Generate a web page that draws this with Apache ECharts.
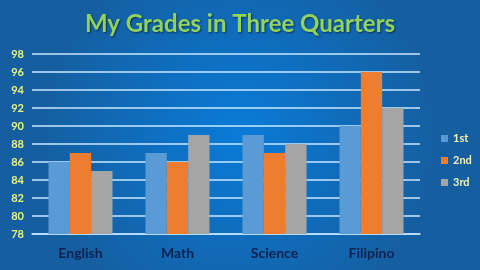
<!DOCTYPE html>
<html><head><meta charset="utf-8">
<script src="https://cdn.jsdelivr.net/npm/echarts@6/dist/echarts.min.js"></script>
<style>html,body{margin:0;padding:0;}#c{width:480px;height:270px;}</style>
</head><body><div id="c"></div>
<script>
const categories = ['English', 'Math', 'Science', 'Filipino'];
const seriesNames = ['1st', '2nd', '3rd'];
const q1 = [86, 87, 89, 90];
const q2 = [87, 86, 87, 96];
const q3 = [85, 89, 88, 92];
const colors = ['#5b9bd5', '#ed7d31', '#a5a5a5'];
const chart = echarts.init(document.getElementById('c'));
const font = 'Lato, "Open Sans", sans-serif';
chart.setOption({
  backgroundColor: {type:'radial', x:0.5, y:0.5, r:0.75, colorStops:[{offset:0,color:'#0a7bd8'},{offset:1,color:'#155e9f'}]},
  animation: false,
  title: {text:'My Grades in Three Quarters', left:'center', top:7,
    textStyle:{color:'#92d35e', fontSize:24, fontWeight:'bold', fontFamily:font,
      textShadowColor:'rgba(0,0,0,0.5)', textShadowBlur:2, textShadowOffsetX:1, textShadowOffsetY:1}},
  legend: {orient:'vertical', left:436, top:128, itemWidth:7, itemHeight:7, itemGap:11,
    icon:'rect', data: seriesNames,
    textStyle:{color:'#f2f2a8', fontSize:11, fontWeight:'bold', fontFamily:font}},
  grid: {left:32, right:60, top:54, bottom:36},
  xAxis: {type:'category', data:categories,
    axisLine:{lineStyle:{color:'#bfe3ff', width:1.5}}, axisTick:{show:false},
    axisLabel:{color:'#0d2250', fontSize:14, fontWeight:'bold', fontFamily:font, margin:12}},
  yAxis: {type:'value', min:78, max:98, interval:2,
    axisLine:{show:false}, axisTick:{show:false},
    splitLine:{lineStyle:{color:'#c8e8ff', width:1.5}},
    axisLabel:{color:'#eaf77a', fontSize:11, fontWeight:'bold', fontFamily:font, margin:8}},
  series: [
    {name:seriesNames[0], type:'bar', data:q1, itemStyle:{color:colors[0]}, barGap:'0%', barCategoryGap:'34%'},
    {name:seriesNames[1], type:'bar', data:q2, itemStyle:{color:colors[1]}, barGap:'0%', barCategoryGap:'34%'},
    {name:seriesNames[2], type:'bar', data:q3, itemStyle:{color:colors[2]}, barGap:'0%', barCategoryGap:'34%'}
  ]
});
</script></body></html>
